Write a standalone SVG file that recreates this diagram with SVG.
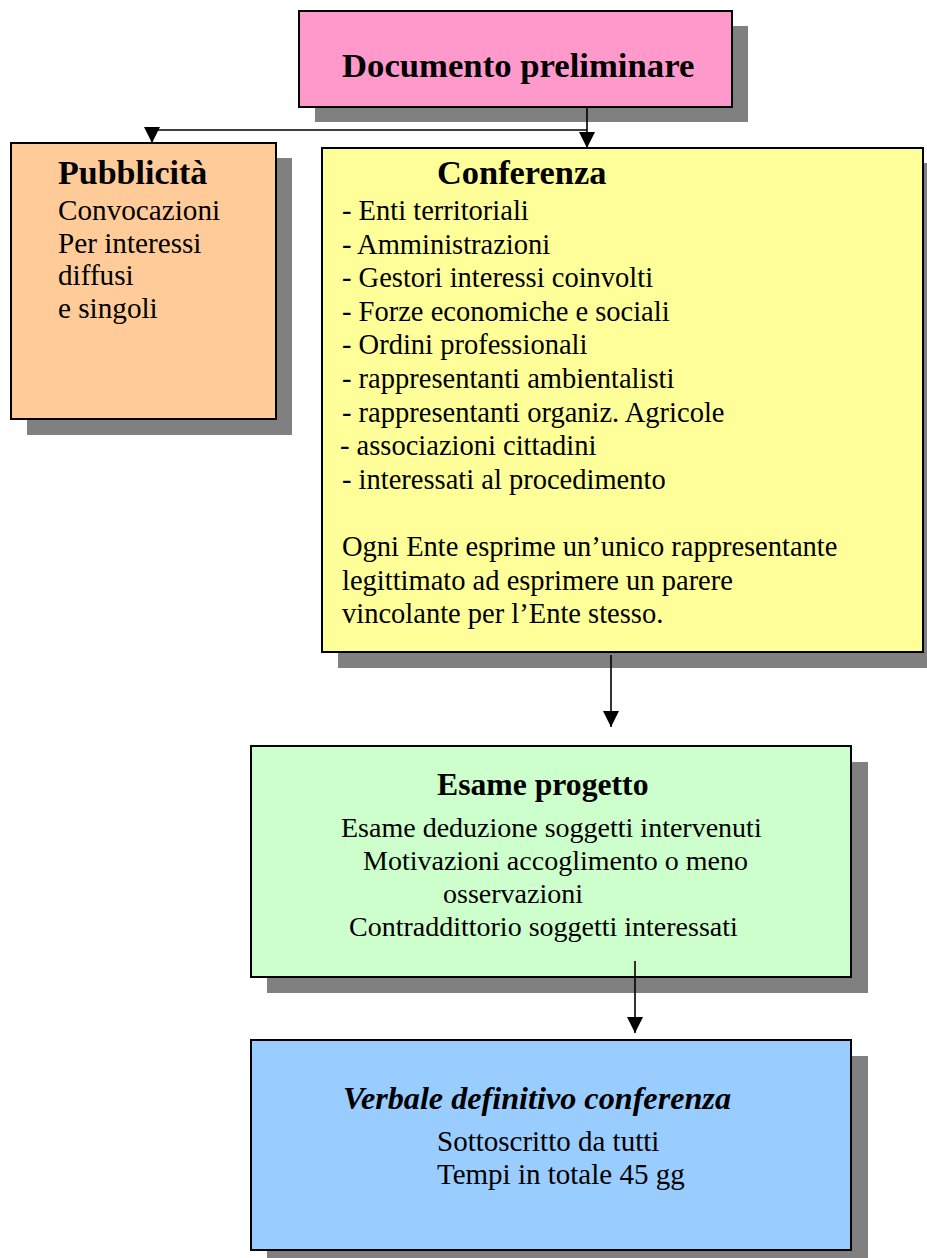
<svg xmlns="http://www.w3.org/2000/svg" width="927" height="1258" viewBox="0 0 927 1258">
<style>
.shadow{fill:#808080}
.box{stroke:#000;stroke-width:2}
.t{font-family:"Liberation Serif","Times New Roman",serif;fill:#000}
.h{font-weight:bold;font-size:34px}
.b{font-size:28.5px}
.conn{fill:none;stroke:#000;stroke-width:1.6}
</style>
<defs>
<marker id="arr" markerUnits="userSpaceOnUse" markerWidth="16" markerHeight="16" viewBox="0 0 16 16" refX="16" refY="8" orient="auto">
<path d="M0,0 L16,8 L0,16 z" fill="#000"/>
</marker>
</defs>
<rect width="927" height="1258" fill="#fff"/>

<g id="documento">
<rect class="shadow" x="315" y="26" width="433" height="96"/>
<rect class="box" x="299" y="11" width="433" height="96" fill="#FF99CC"/>
<text class="t h" x="342" y="77" style="font-size:34.7px">Documento preliminare</text>
</g>

<g id="pubblicita">
<rect class="shadow" x="27" y="158" width="265" height="277"/>
<rect class="box" x="11" y="143" width="265" height="276" fill="#FFCC99"/>
<text class="t h" x="58" y="184">Pubblicità</text>
<text class="t b" x="58" y="220" style="font-size:29.2px">Convocazioni</text>
<text class="t b" x="58" y="252.5" style="font-size:29.2px">Per interessi</text>
<text class="t b" x="58" y="285" style="font-size:29.2px">diffusi</text>
<text class="t b" x="58" y="317.5" style="font-size:29.2px">e singoli</text>
</g>

<g id="conferenza">
<rect class="shadow" x="338" y="163" width="600" height="505"/>
<rect class="box" x="322" y="148" width="601" height="504" fill="#FFFF99"/>
<text class="t h" x="437" y="184" style="font-size:34.4px">Conferenza</text>
<text class="t b" x="342" y="220">- Enti territoriali</text>
<text class="t b" x="342" y="253.6">- Amministrazioni</text>
<text class="t b" x="342" y="287.2">- Gestori interessi coinvolti</text>
<text class="t b" x="342" y="320.8">- Forze economiche e sociali</text>
<text class="t b" x="342" y="354.4">- Ordini professionali</text>
<text class="t b" x="342" y="388">- rappresentanti ambientalisti</text>
<text class="t b" x="342" y="421.6">- rappresentanti organiz. Agricole</text>
<text class="t b" x="340" y="455.2">- associazioni cittadini</text>
<text class="t b" x="342" y="488.8">- interessati al procedimento</text>
<text class="t b" x="342" y="556">Ogni Ente esprime un’unico rappresentante</text>
<text class="t b" x="342" y="589.6">legittimato ad  esprimere un parere</text>
<text class="t b" x="342" y="623.2">vincolante per l’Ente stesso.</text>
</g>

<g id="esame">
<rect class="shadow" x="267" y="762" width="601" height="231"/>
<rect class="box" x="251" y="746" width="600" height="231" fill="#CCFFCC"/>
<text class="t h" x="437" y="795" style="font-size:31.7px">Esame progetto</text>
<text class="t b" x="341" y="837" style="font-size:28px">Esame deduzione soggetti intervenuti</text>
<text class="t b" x="363" y="870" style="font-size:28px">Motivazioni accoglimento o meno</text>
<text class="t b" x="443" y="903" style="font-size:28px">osservazioni</text>
<text class="t b" x="349" y="936" style="font-size:28px">Contraddittorio soggetti interessati</text>
</g>

<g id="verbale">
<rect class="shadow" x="267" y="1056" width="601" height="210"/>
<rect class="box" x="251" y="1040" width="600" height="210" fill="#99CCFF"/>
<text class="t h" x="343" y="1109" style="font-size:32.2px;font-style:italic">Verbale definitivo conferenza</text>
<text class="t b" x="437" y="1151" style="font-size:29px">Sottoscritto da tutti</text>
<text class="t b" x="437" y="1184" style="font-size:29px">Tempi in totale 45 gg</text>
</g>

<g id="connectors">
<path class="conn" d="M587,107 V148" marker-end="url(#arr)"/>
<path class="conn" d="M587,130 H152 V143" marker-end="url(#arr)"/>
<path class="conn" d="M611,655 V727" marker-end="url(#arr)"/>
<path class="conn" d="M635,961 V1033" marker-end="url(#arr)"/>
</g>
</svg>
